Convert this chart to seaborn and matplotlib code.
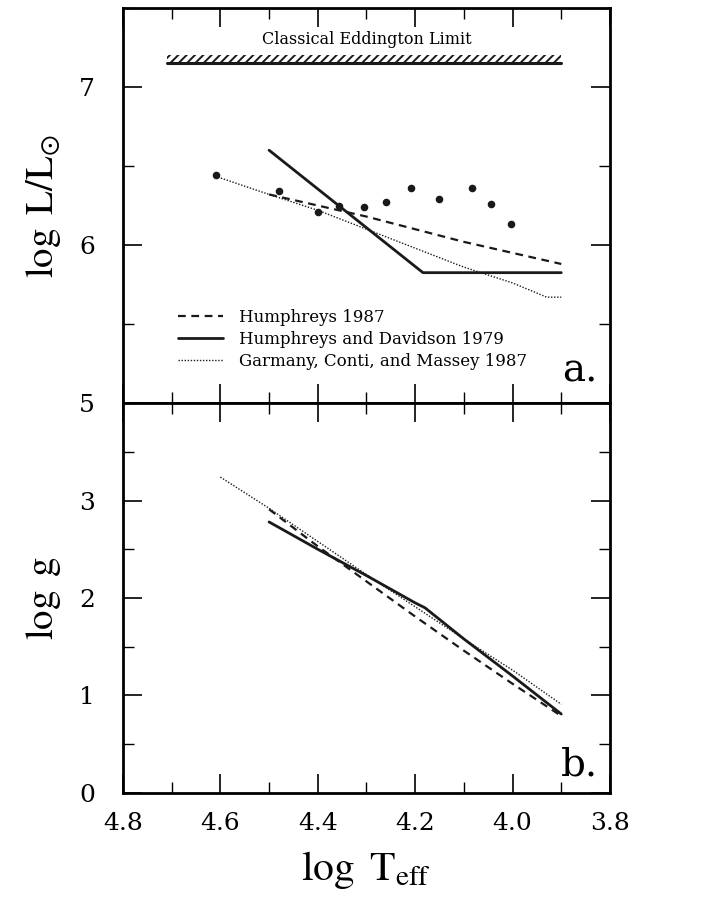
import numpy as np
import pandas as pd
import matplotlib
matplotlib.use("Agg")
import matplotlib.pyplot as plt
from matplotlib.lines import Line2D
from matplotlib.ticker import MultipleLocator, FixedLocator, FormatStrFormatter
import seaborn as sns

# panel a: log L/Lsun vs log Teff
h87_T = [4.5, 4.4, 4.3, 4.2, 4.1, 4.0, 3.9]
h87_L = [6.32, 6.25, 6.18, 6.10, 6.02, 5.95, 5.88]
hd79_T = [4.5, 4.184, 3.9]
hd79_L = [6.60, 5.825, 5.825]
gcm_T = [4.605, 4.5, 4.4, 4.3, 4.2, 4.1, 4.0, 3.93, 3.9]
gcm_L = [6.43, 6.32, 6.22, 6.10, 5.98, 5.86, 5.76, 5.67, 5.67]
star_T = [4.61, 4.48, 4.40, 4.357, 4.305, 4.26, 4.209, 4.152, 4.084, 4.045, 4.004]
star_L = [6.44, 6.34, 6.21, 6.25, 6.24, 6.27, 6.36, 6.29, 6.36, 6.26, 6.13]

# panel b: log g vs log Teff
h87_g_T = [4.5, 4.4, 4.3, 4.2, 4.1, 4.0, 3.9]
h87_g = [2.91, 2.53, 2.17, 1.81, 1.46, 1.12, 0.79]
hd79_g_T = [4.5, 4.4, 4.3, 4.2, 4.18, 4.15, 4.1, 4.0, 3.9]
hd79_g = [2.78, 2.50, 2.23, 1.95, 1.90, 1.78, 1.58, 1.20, 0.81]
gcm_g_T = [4.6, 4.5, 4.4, 4.3, 4.2, 4.1, 4.0, 3.9]
gcm_g = [3.24, 2.92, 2.58, 2.24, 1.91, 1.58, 1.26, 0.91]

labels = ["Humphreys 1987", "Humphreys and Davidson 1979",
          "Garmany, Conti, and Massey 1987"]

sns.set_theme(style="ticks")
plt.rcParams["font.family"] = ["DejaVu Serif"]
plt.rcParams["mathtext.fontset"] = "stix"
plt.rcParams["hatch.linewidth"] = 1.4
for key in ["text.color", "axes.labelcolor", "xtick.color", "ytick.color", "axes.edgecolor"]:
    plt.rcParams[key] = "black"

styles = {
    "dash": dict(color="k", linewidth=1.6, dashes=(3.5, 2.5)),
    "solid": dict(color="k", linewidth=2.0),
    "dot": dict(color="k", linewidth=1.0, linestyle=(0, (1, 1.2))),
}

fig = plt.figure(figsize=(7.13, 9.0), dpi=100)
ax1 = fig.add_axes([0.1725, 0.5522, 0.683, 0.4389])
ax2 = fig.add_axes([0.1725, 0.1189, 0.683, 0.4333], sharex=ax1)

# --- panel a
sns.lineplot(x=h87_T, y=h87_L, ax=ax1, estimator=None, sort=False, **styles["dash"])
sns.lineplot(x=hd79_T, y=hd79_L, ax=ax1, estimator=None, sort=False, **styles["solid"])
sns.lineplot(x=gcm_T, y=gcm_L, ax=ax1, estimator=None, sort=False, **styles["dot"])
sns.scatterplot(x=star_T, y=star_L, ax=ax1, color="k", s=30, linewidth=0, zorder=5)

# Eddington limit hatched bar
edd_T = [4.71, 3.9]
ax1.fill_between(edd_T, 7.155, 7.205, facecolor="none", edgecolor="k",
                 hatch="////", linewidth=0)
ax1.plot(edd_T, [7.155, 7.155], color="k", linewidth=2.2)
ax1.text(4.3, 7.30, "Classical Eddington Limit", ha="center", va="center", fontsize=11.5)
ax1.text(3.825, 5.2, "a.", ha="right", va="center", fontsize=28)

handles = [Line2D([], [], **styles["dash"]), Line2D([], [], **styles["solid"]),
           Line2D([], [], **styles["dot"])]
ax1.legend(handles, labels, loc="center left", bbox_to_anchor=(0.095, 0.16),
           frameon=False, fontsize=12, handlelength=2.7, handletextpad=1.0,
           labelspacing=0.3, borderpad=0)

ax1.set_ylim(5, 7.5)
ax1.set_ylabel(r"$\log\ \mathrm{L/L_{\odot}}$", fontsize=28, labelpad=12)
ax1.yaxis.set_major_locator(MultipleLocator(1))
ax1.yaxis.set_minor_locator(MultipleLocator(0.5))

# --- panel b
sns.lineplot(x=h87_g_T, y=h87_g, ax=ax2, estimator=None, sort=False, **styles["dash"])
sns.lineplot(x=hd79_g_T, y=hd79_g, ax=ax2, estimator=None, sort=False, **styles["solid"])
sns.lineplot(x=gcm_g_T, y=gcm_g, ax=ax2, estimator=None, sort=False, **styles["dot"])
ax2.text(3.825, 0.29, "b.", ha="right", va="center", fontsize=28)

ax2.set_ylim(0, 4)
ax2.set_ylabel(r"$\log\ \mathrm{g}$", fontsize=28, labelpad=12)
ax2.set_xlabel(r"$\log\ \mathrm{T_{eff}}$", fontsize=30, labelpad=10)
ax2.yaxis.set_major_locator(FixedLocator([0, 1, 2, 3]))
ax2.yaxis.set_minor_locator(MultipleLocator(0.5))

ax1.set_xlim(4.8, 3.8)
ax2.xaxis.set_major_locator(MultipleLocator(0.2))
ax2.xaxis.set_minor_locator(MultipleLocator(0.1))
ax2.xaxis.set_major_formatter(FormatStrFormatter("%.1f"))

for ax in (ax1, ax2):
    ax.tick_params(which="both", direction="in", top=True, right=True, labelsize=18)
    ax.tick_params(which="major", length=14, width=1.2)
    ax.tick_params(which="minor", length=8, width=1.0)
    ax.tick_params(axis="y", which="major", pad=20)
    ax.tick_params(axis="x", which="major", pad=14)
    for sp in ax.spines.values():
        sp.set_linewidth(2.0)
ax1.tick_params(axis="x", which="both", labelbottom=False)

fig.savefig("out.png", dpi=100)
